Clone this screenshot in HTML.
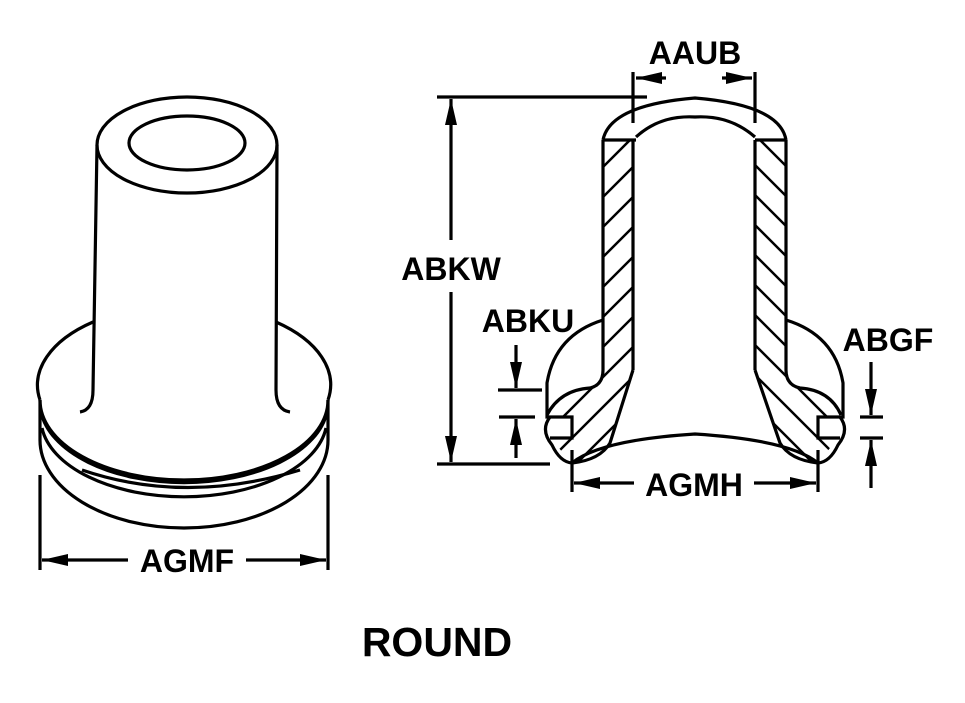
<!DOCTYPE html>
<html><head><style>body{margin:0;background:#fff}svg{display:block}text{font-family:"Liberation Sans",sans-serif;font-weight:bold;fill:#000}</style></head>
<body>
<svg width="965" height="703" viewBox="0 0 965 703" xmlns="http://www.w3.org/2000/svg">
<defs>
<marker id="a" viewBox="0 0 26 12" refX="26" refY="6" markerWidth="26" markerHeight="12" markerUnits="userSpaceOnUse" orient="auto"><path d="M0,0 L26,6 L0,12Z" fill="#000"/></marker>
<clipPath id="cl"><path d="M603,140 L633,140 L633,370 L610,443 Q600,458 572,463 L550,438 L572,438 L572,417 L547,417 Q560,395 590,388 Q603,385 603,370Z"/></clipPath>
<clipPath id="cr"><path d="M755,140 L786,140 L786,370 Q786,385 800,388 Q830,395 841,417 L818,417 L818,438 L838,438 L818,463 Q790,458 780,443 L755,370Z"/></clipPath>
</defs>
<g fill="none" stroke="#000" stroke-width="3.2">
<ellipse cx="187" cy="145" rx="90" ry="48"/>
<ellipse cx="187" cy="143" rx="58" ry="27"/>
<path d="M97,145 L93,390 Q93,410 80,412"/>
<path d="M277,145 L276,390 Q276,410 290,412"/>
<path d="M93,322 A144 80 0 0 0 40,400 M276,322 A144 80 0 0 1 328,400"/>
<path d="M40,400 A144 80 0 0 0 328,400"/>
<path d="M41,412 A144 80 0 0 0 327,412"/>
<path d="M40,400 L40,440 M328,400 L328,440"/>
<path d="M42,428 A143 78 0 0 0 326,428"/>
<path d="M40,440 A144 88 0 0 0 328,440"/>
<path d="M82,470 Q185,505 300,470"/>
<path d="M40,475 V570 M328,475 V570"/>
<line x1="128" y1="560" x2="42" y2="560" marker-end="url(#a)"/>
<line x1="246" y1="560" x2="326" y2="560" marker-end="url(#a)"/>
<g clip-path="url(#cl)" stroke-width="2.5"><path d="M540,200 L660,80 M540,230 L660,110 M540,260 L660,140 M540,290 L660,170 M540,320 L660,200 M540,350 L660,230 M540,380 L660,260 M540,410 L660,290 M540,440 L660,320 M540,470 L660,350 M540,500 L660,380 M540,530 L660,410"/></g>
<g clip-path="url(#cr)" stroke-width="2.5"><path d="M730,80 L850,200 M730,110 L850,230 M730,140 L850,260 M730,170 L850,290 M730,200 L850,320 M730,230 L850,350 M730,260 L850,380 M730,290 L850,410 M730,320 L850,440 M730,350 L850,470 M730,380 L850,500 M730,410 L850,530"/></g>
<path d="M603,140 Q610,105 695,98 Q780,105 786,140"/>
<path d="M636,137 Q660,115 695,117 Q730,115 755,137"/>
<path d="M603,140 H636 M755,140 H786"/>
<path d="M603,140 V370 Q603,385 590,388 Q560,390 547,415 M786,140 V370 Q786,385 800,388 Q830,390 841,415"/>
<path d="M633,140 V370 M755,140 V370"/>
<path d="M603,320 Q555,335 547,383 V417 H572 V438 H550 M786,320 Q835,335 843,383 V417 H818 V438 H840"/>
<path d="M550,417 Q540,430 552,445 Q560,462 572,463 M840,417 Q850,430 838,445 Q830,462 818,463"/>
<path d="M633,370 L610,443 Q600,460 572,463 M755,370 L780,443 Q790,460 818,463"/>
<path d="M572,463 Q600,440 695,434 Q790,440 818,463"/>
<path d="M633,72 V123 M755,72 V123"/>
<line x1="666" y1="78" x2="636" y2="78" marker-end="url(#a)"/>
<line x1="722" y1="78" x2="752" y2="78" marker-end="url(#a)"/>
<path d="M437,97 H647 M437,464 H550"/>
<line x1="451" y1="240" x2="451" y2="99" marker-end="url(#a)"/>
<line x1="451" y1="292" x2="451" y2="462" marker-end="url(#a)"/>
<path d="M498,390 H542 M499,417 H535"/>
<line x1="516" y1="345" x2="516" y2="388" marker-end="url(#a)"/>
<line x1="516" y1="458" x2="516" y2="419" marker-end="url(#a)"/>
<path d="M860,417 H883 M860,438 H883"/>
<line x1="871" y1="362" x2="871" y2="415" marker-end="url(#a)"/>
<line x1="871" y1="488" x2="871" y2="440" marker-end="url(#a)"/>
<path d="M572,450 V492 M818,450 V492"/>
<line x1="634" y1="483" x2="574" y2="483" marker-end="url(#a)"/>
<line x1="754" y1="483" x2="816" y2="483" marker-end="url(#a)"/>
</g>
<text x="695" y="64" font-size="32" text-anchor="middle">AAUB</text>
<text x="451" y="280" font-size="32" text-anchor="middle">ABKW</text>
<text x="528" y="332" font-size="32" text-anchor="middle">ABKU</text>
<text x="888" y="351" font-size="32" text-anchor="middle">ABGF</text>
<text x="694" y="496" font-size="32" text-anchor="middle">AGMH</text>
<text x="187" y="572" font-size="32" text-anchor="middle">AGMF</text>
<text x="437" y="656" font-size="41" text-anchor="middle">ROUND</text>
</svg>
</body></html>
